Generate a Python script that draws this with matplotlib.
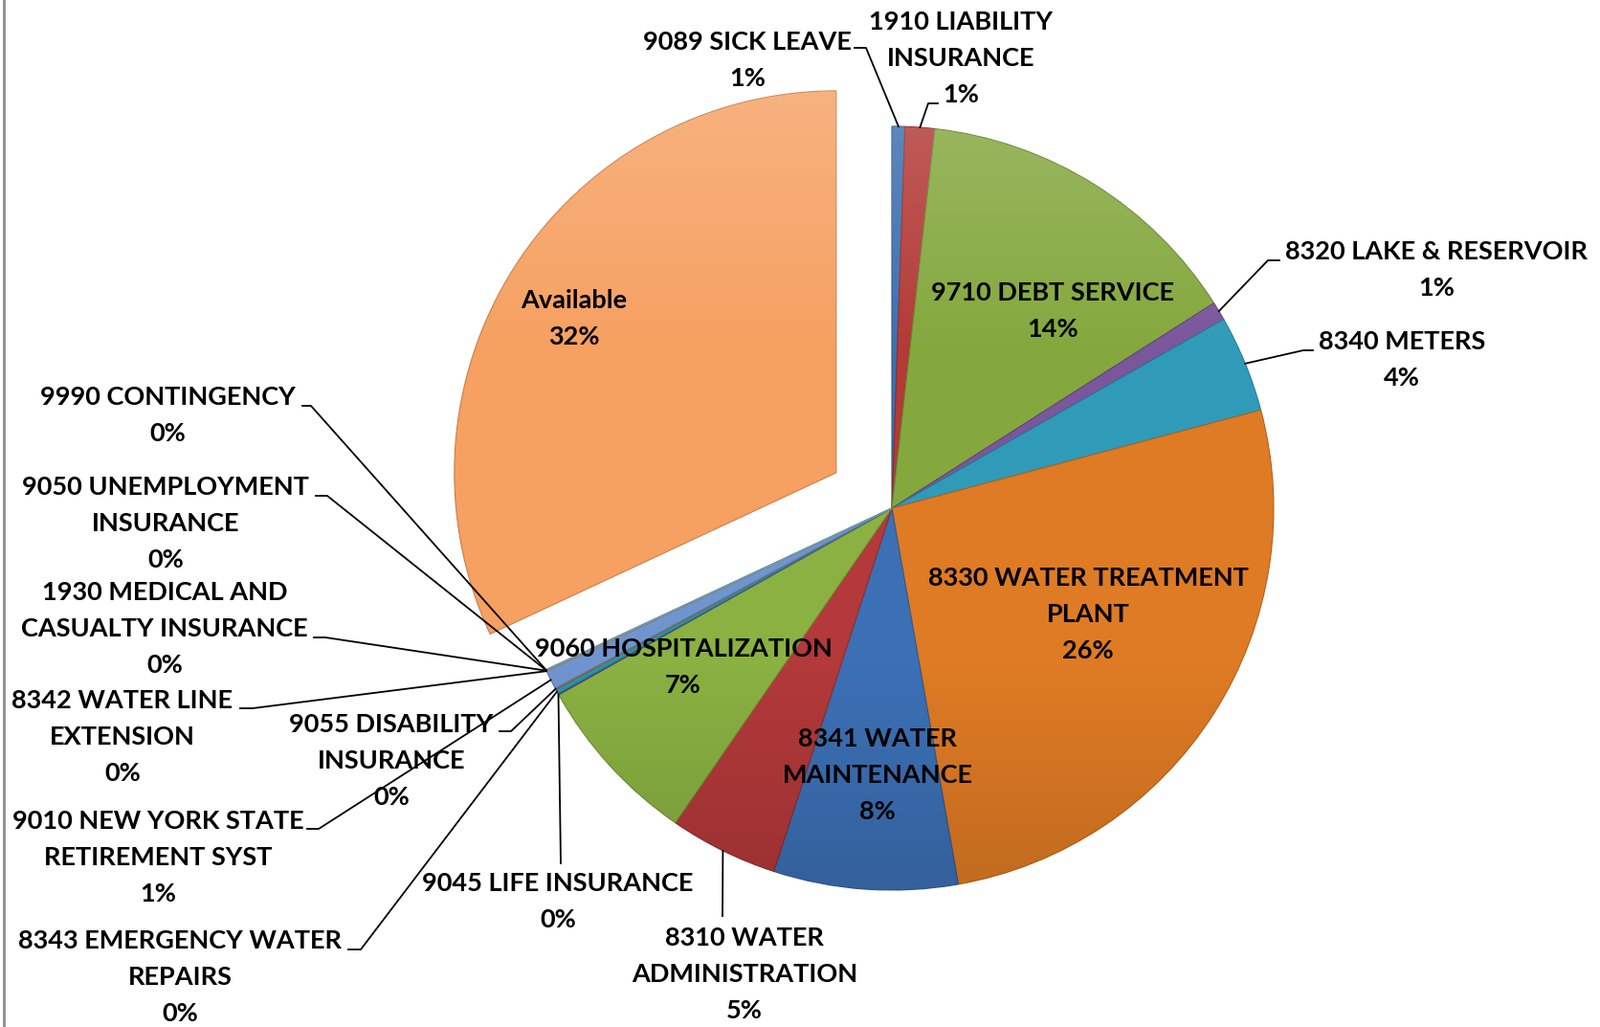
import matplotlib.pyplot as plt
import numpy as np
from matplotlib.colors import LinearSegmentedColormap, to_rgb

names = ['9089 SICK LEAVE', '1910 LIABILITY\nINSURANCE', '9710 DEBT SERVICE',
         '8320 LAKE & RESERVOIR', '8340 METERS', '8330 WATER TREATMENT\nPLANT',
         '8341 WATER\nMAINTENANCE', '8310 WATER\nADMINISTRATION', '9060 HOSPITALIZATION',
         '9045 LIFE INSURANCE', '8343 EMERGENCY WATER\nREPAIRS', '9055 DISABILITY\nINSURANCE',
         '9010 NEW YORK STATE\nRETIREMENT SYST', '8342 WATER LINE\nEXTENSION',
         '1930 MEDICAL AND\nCASUALTY INSURANCE', '9050 UNEMPLOYMENT\nINSURANCE',
         '9990 CONTINGENCY', 'Available']
values = [0.55, 1.25, 14.2, 0.8, 4.1, 26.4, 7.8, 4.6, 7.3,
          0.05, 0.2, 0.05, 0.8, 0.02, 0.02, 0.02, 0.02, 32.0]
colors = ['#3d6fb0', '#b33a37', '#84a83e', '#7a569c', '#2f9bb9', '#df7b24',
          '#3c70b5', '#b3393a', '#8ab142', '#6a4a8c', '#2a93ae', '#d0701f',
          '#6f95cf', '#d77b79', '#b6cf8a', '#a692c4', '#7ec5da', '#f6a061']

# layout (pixel coords, y down): label centre, leader anchor on label, elbow
W, H = 1672, 1073
label_pos = [(781, 63), (1004, 61), (1100, 325), (1501, 282), (1465, 376), (1137, 642),
             (917, 810), (778, 1018), (714, 697), (583, 942), (188, 1021), (409, 795),
             (165, 896), (128, 770), (172, 657), (173, 547), (175, 434), (600, 333)]
leaders = {0: ((893, 50), (905, 50)), 1: ((980, 108), (970, 108)),
           3: ((1337, 272), (1325, 272)), 4: ((1372, 366), (1362, 366)),
           7: ((755, 957), (755, 957)), 9: ((586, 902), (586, 902)),
           10: ((364, 992), (377, 992)), 11: ((522, 764), (534, 764)),
           12: ((321, 866), (333, 866)), 13: ((251, 740), (264, 740)),
           14: ((328, 666), (340, 666)), 15: ((330, 518), (342, 518)),
           16: ((316, 424), (325, 424))}

fig = plt.figure(figsize=(W / 100, H / 100), dpi=100)
ax = fig.add_axes([0, 0, 1, 1])
cx, cy, r = 932, H - 531, 399
wedges, _ = ax.pie(values, colors=colors, startangle=90, counterclock=False,
                   radius=r, center=(cx, cy), frame=True)

# pull the last slice out along its bisector
w = wedges[-1]
mid = np.deg2rad((w.theta1 + w.theta2) / 2)
w.set_center((cx + 69 * np.cos(mid), cy + 69 * np.sin(mid)))

shade = LinearSegmentedColormap.from_list(
    'shade', [(1, 1, 1, 0.22), (1, 1, 1, 0.0), (0, 0, 0, 0.0), (0, 0, 0, 0.18)])
grad = np.linspace(0, 1, 256).reshape(-1, 1)
for w, c in zip(wedges, colors):
    w.set_edgecolor(tuple(v * 0.8 for v in to_rgb(c)))
    w.set_linewidth(0.8)
    im = ax.imshow(grad, cmap=shade, extent=(cx - r - 80, cx + r + 80, cy - r - 80, cy + r + 80),
                   aspect='auto', zorder=w.get_zorder() + 0.1, interpolation='bilinear')
    im.set_clip_path(w)

total = sum(values)
for i, (name, v) in enumerate(zip(names, values)):
    pct = round(v / total * 100)
    tx, ty = label_pos[i]
    ax.text(tx, H - ty, f'{name}\n{pct}%', ha='center', va='center', fontsize=19.5,
            fontweight='bold', family='Lato', linespacing=1.72, zorder=5)
    if i in leaders:
        wd = wedges[i]
        m = np.deg2rad((wd.theta1 + wd.theta2) / 2)
        px, py = wd.center[0] + r * np.cos(m), wd.center[1] + r * np.sin(m)
        (ax_, ay_), (ex, ey) = leaders[i]
        ax.plot([px, ex, ax_], [py, H - ey, H - ay_], color='black', lw=1.3, zorder=4)

ax.plot([4, 4], [0, H], color='#8c8c8c', lw=2)
ax.set_xlim(0, W)
ax.set_ylim(0, H)
ax.set_aspect('auto')
ax.axis('off')
fig.savefig('out.png', dpi=100)
